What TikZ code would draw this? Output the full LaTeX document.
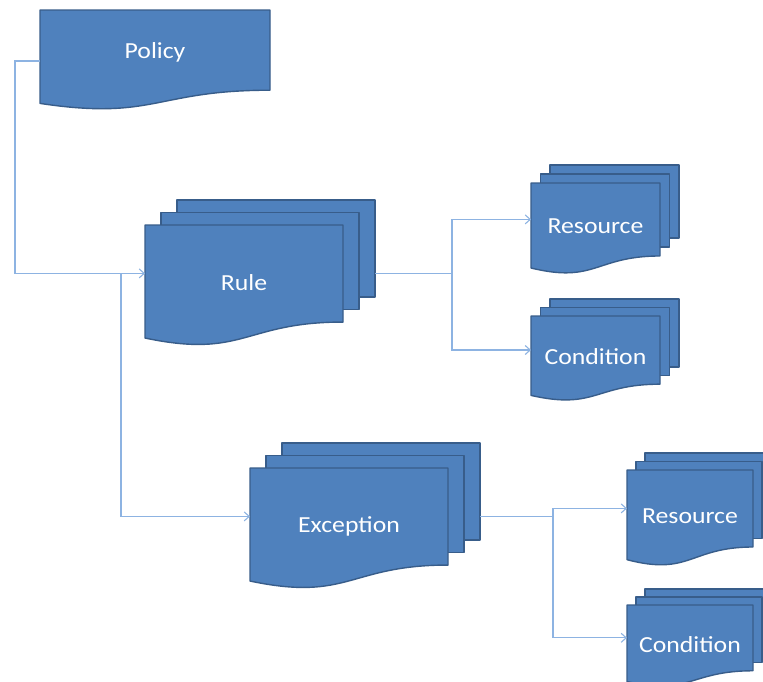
\documentclass[tikz,border=0pt]{standalone}
\usepackage{graphicx}
\usepackage{fontspec}
\setmainfont{Carlito}
\usetikzlibrary{arrows.meta,calc}
\definecolor{docfill}{HTML}{4F81BD}
\definecolor{docline}{HTML}{385D8A}
\definecolor{connline}{HTML}{8DB3E2}
\tikzset{
  docstyle/.style={fill=docfill, draw=docline, line width=1.4pt, line join=round},
  doctext/.style={text=white, font=\fontsize{23}{27}\selectfont, inner sep=0pt},
  conn/.style={draw=connline, line width=1.1pt},
  arr/.style={conn, -{Straight Barb[length=5pt,width=9pt,line width=1.1pt]}},
}
% single document shape: x y w h
\newcommand\onedoc[4]{%
  \filldraw[docstyle] (#1,#2) -- (#1+#3,#2) -- (#1+#3,#2+0.802*#4)
    .. controls (#1+0.5*#3,#2+0.802*#4) and (#1+0.5*#3,#2+1.107*#4) .. (#1,#2+0.934*#4) -- cycle;}
% plain sheet: x y w h
\newcommand\sheet[4]{%
  \filldraw[docstyle] (#1,#2) rectangle (#1+#3,#2+0.802*#4);}
% stack: name x y w h dx dy text
\newcommand\mdoc[8]{%
  \sheet{#2+2*#6}{#3-2*#7}{#4}{#5}
  \sheet{#2+#6}{#3-#7}{#4}{#5}
  \onedoc{#2}{#3}{#4}{#5}
  \node[doctext] (#1) at (#2+0.5*#4,#3+0.48*#5) {\scalebox{1.12}[1]{#8}};
  \coordinate (#1-in) at (#2,#3+0.4*#5);
  \coordinate (#1-out) at (#2+2*#6+#4,#3+0.4*#5);
}
\begin{document}
\begin{tikzpicture}[x=1pt,y=-1pt]
  \clip (0,0) rectangle (763,681);
  \fill[white] (0,0) rectangle (763,681);

  % Policy
  \onedoc{40}{10}{230}{100}
  \node[doctext] (policy) at (155,52) {\scalebox{1.12}[1]{Policy}};
  \coordinate (policy-w) at (40,61);

  % stacks
  \mdoc{rule}{145}{225}{198}{121}{16}{12.5}{Rule}
  \mdoc{exc}{250}{468}{198}{121}{16}{12.5}{Exception}
  \mdoc{resA}{531}{183}{129}{91}{9.5}{9}{Resource}
  \mdoc{condA}{531}{316}{129}{85}{9.5}{8.5}{Condition}
  \mdoc{resB}{627}{470}{126}{96}{9}{8.5}{Resource}
  \mdoc{condB}{627}{605}{126}{82}{9}{8}{Condition}

  % connector junctions
  \coordinate (busL) at (15,0);
  \coordinate (tapR) at (121,0);
  \coordinate (forkA) at (452,0);
  \coordinate (forkB) at (553,0);

  % Policy -> Rule
  \draw[arr] (policy-w) -- (policy-w -| busL) |- (rule-in);
  % Rule -> Exception
  \draw[arr] (tapR |- rule-in) |- (exc-in);
  % Rule -> Resource / Condition
  \draw[conn] (rule-out) -- (rule-out -| forkA);
  \draw[arr] (rule-out -| forkA) |- (resA-in);
  \draw[arr] (rule-out -| forkA) |- (condA-in);
  % Exception -> Resource / Condition
  \draw[conn] (exc-out) -- (exc-out -| forkB);
  \draw[arr] (exc-out -| forkB) |- (resB-in);
  \draw[arr] (exc-out -| forkB) |- (condB-in);
\end{tikzpicture}
\end{document}
